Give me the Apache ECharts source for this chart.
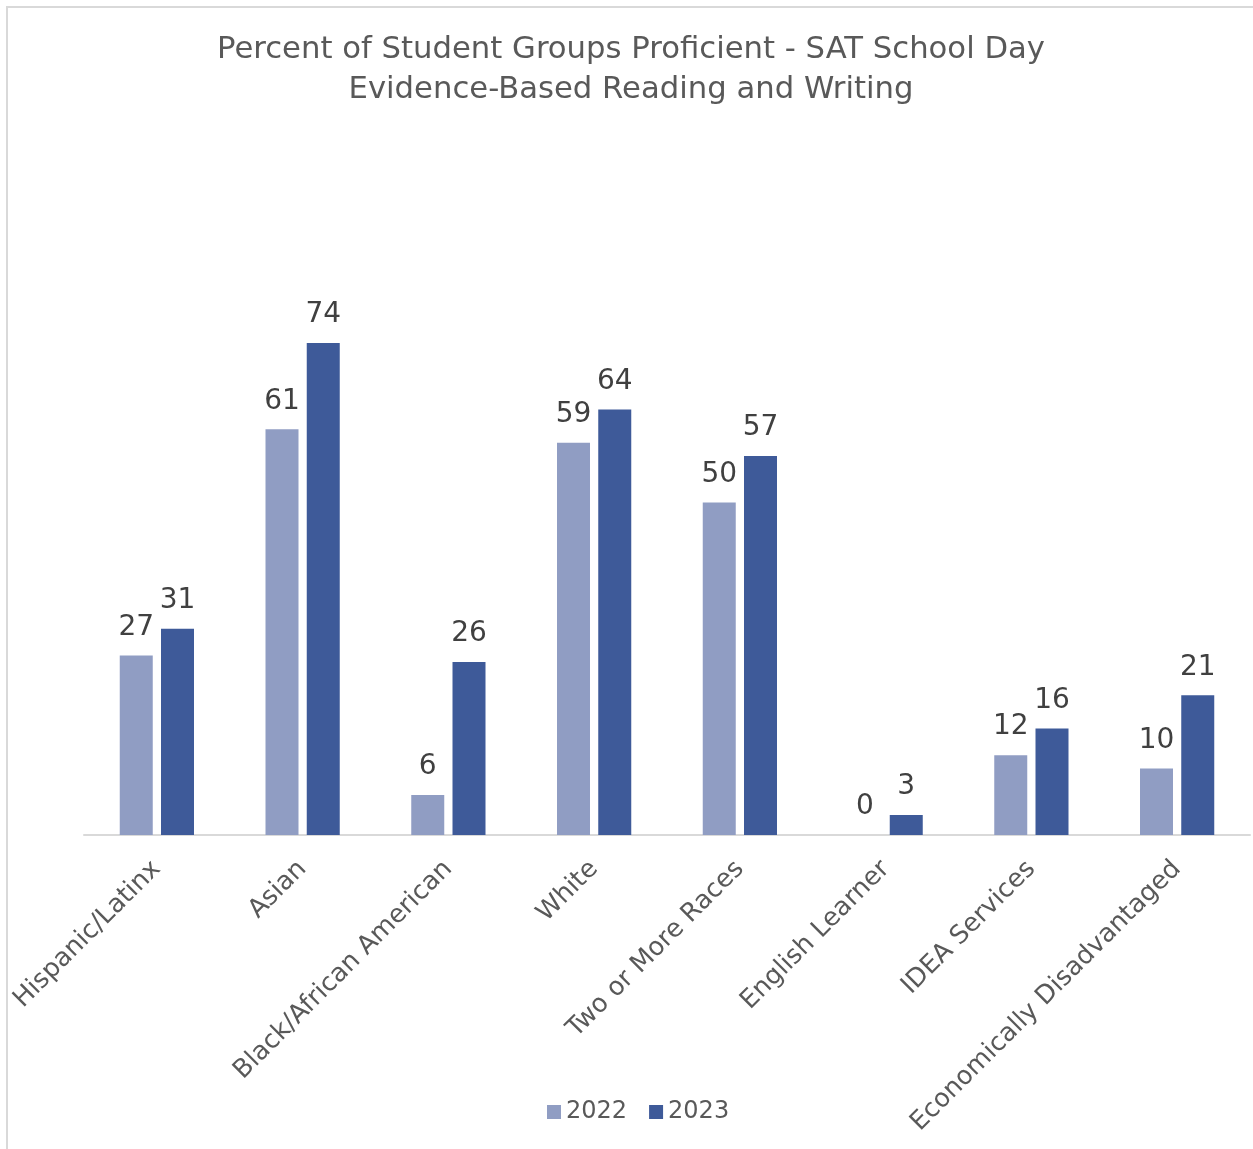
<!DOCTYPE html>
<html>
<head>
<meta charset="utf-8">
<script src="https://cdn.jsdelivr.net/npm/echarts@6/dist/echarts.min.js"></script>
<style>
html,body{margin:0;padding:0;background:#fff;}
#c{width:1253px;height:1149px;}
</style>
</head>
<body>
<div id="c"></div>
<script>
const categories = ["Hispanic/Latinx","Asian","Black/African American","White","Two or More Races","English Learner","IDEA Services","Economically Disadvantaged"];
const values2022 = [27,61,6,59,50,0,12,10];
const values2023 = [31,74,26,64,57,3,16,21];
const seriesNames = ["2022","2023"];
const titleLines = ["Percent of Student Groups Proficient - SAT School Day","Evidence-Based Reading and Writing"];

const FONT = "DejaVu Sans";
const chart = echarts.init(document.getElementById('c'));
const labelCfg = {show:true, position:'top', distance:14, color:'#404040', fontSize:28, fontFamily:FONT};
chart.setOption({
  animation:false,
  textStyle:{fontFamily:FONT},
  graphic:[{type:'rect', shape:{x:7,y:7,width:1300,height:1200}, style:{fill:'none', stroke:'#D9D9D9', lineWidth:2}, silent:true}],
  title:{text:titleLines.join('\n'), left:626, textAlign:'center', top:25,
    textStyle:{fontSize:30.7, fontWeight:'normal', color:'#595959', lineHeight:40, fontFamily:FONT}},
  legend:{bottom:20, left:542, itemWidth:14, itemHeight:14, itemGap:22, icon:'rect',
    textStyle:{fontSize:24, color:'#595959', fontFamily:FONT}},
  grid:{left:84, right:3, top:303, bottom:314, containLabel:false},
  xAxis:{type:'category', data:categories,
    axisLine:{lineStyle:{color:'#D9D9D9', width:2}},
    axisTick:{show:false},
    axisLabel:{rotate:45, interval:0, margin:30, fontSize:25.6, color:'#595959', fontFamily:FONT}},
  yAxis:{type:'value', min:0, max:80, show:false, splitLine:{show:false}},
  series:[
    {name:seriesNames[0], type:'bar', data:values2022, barWidth:33, barGap:'25%', itemStyle:{color:'#909DC3'}, label:labelCfg},
    {name:seriesNames[1], type:'bar', data:values2023, barWidth:33, barGap:'25%', itemStyle:{color:'#3E5A99'}, label:labelCfg}
  ]
});
</script>
</body>
</html>
